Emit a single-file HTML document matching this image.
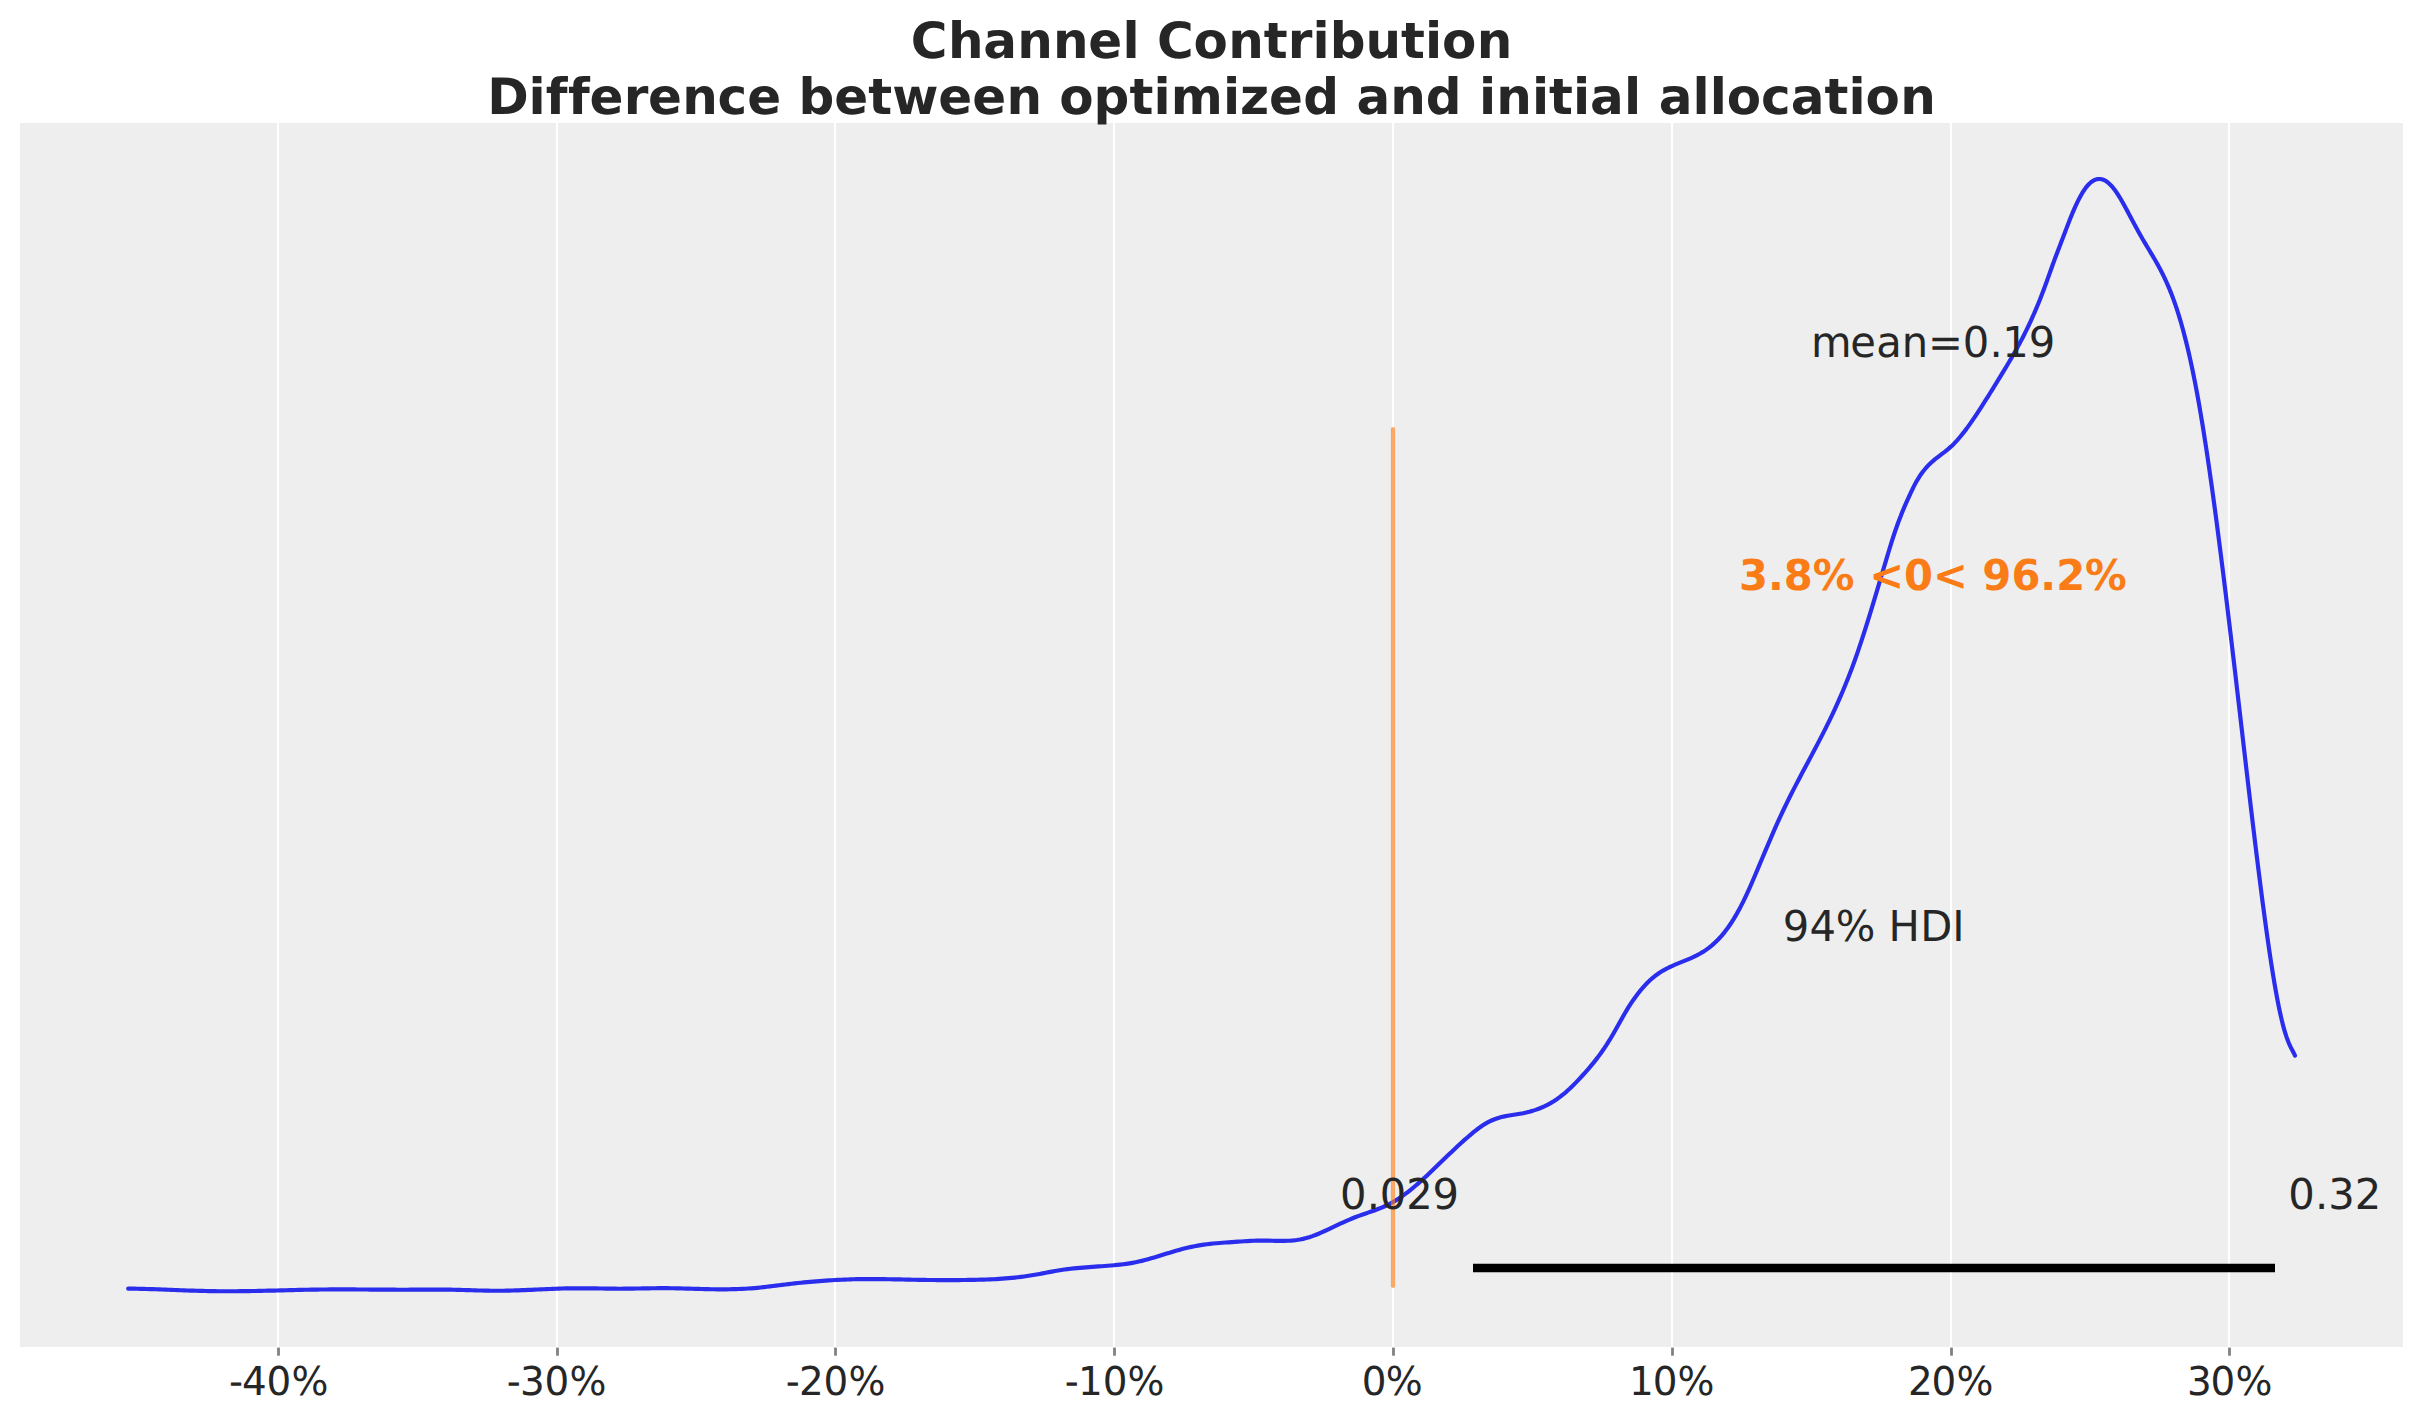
<!DOCTYPE html>
<html lang="en">
<head>
<meta charset="utf-8">
<title>Channel Contribution</title>
<style>
html,body{margin:0;padding:0;background:#ffffff;}
body{width:[1.  1.  1.  1.  1.  1.  1.  1.  1.  1.  1.  1.  1.  1.  1.  1.  1.  1.
 1.  1.  1.  1.  1.  1.  1.  1.  1.  1.  1.  1.  1.  1.  1.  1.  1.  1.
 1.  1.  1.  1.  1.  1.  1.  1.  1.  1.  1.  1.  1.  1.  1.  1.  1.  1.
 1.  1.  1.  1.  1.  1.  1.  1.  1.  1.  1.  1.  1.  1.  1.  1.  1.  1.
 1.  1.  1.  1.  1.  1.  1.  1.  1.  1.  1.  1.  1.  1.  1.  1.  1.  1.
 1.  1.  1.  2.5 2.5 2.5 2.5 2.5 2.5 2.5 2.5 2.5 2.5 2.5 2.5 2.5 2.5 2.5
 2.5 2.5 2.5 2.5 2.5 2.5 2.5 2.5 1.  1.  1.  1.  1.  1.  1.  1.  1.  1.
 1.  1.  1.  1.  1.  1.  1.  1.  1.  1.  1.  1.  1. ]px;height:1423px;overflow:hidden;}
svg{display:block;}
text{font-family:"DejaVu Sans","Liberation Sans",sans-serif;fill:#262626;text-rendering:geometricPrecision;white-space:pre;font-variant-ligatures:none;font-feature-settings:"liga" 0,"clig" 0,"kern" 0;font-kerning:none;}
.tk{font-size:38.89px;}
.lb{font-size:41.67px;}
.rf{fill:#fa7c17;font-weight:bold;}
.tt{font-size:50px;font-weight:bold;}
</style>
</head>
<body>
<svg xmlns="http://www.w3.org/2000/svg" width="[1.  1.  1.  1.  1.  1.  1.  1.  1.  1.  1.  1.  1.  1.  1.  1.  1.  1.
 1.  1.  1.  1.  1.  1.  1.  1.  1.  1.  1.  1.  1.  1.  1.  1.  1.  1.
 1.  1.  1.  1.  1.  1.  1.  1.  1.  1.  1.  1.  1.  1.  1.  1.  1.  1.
 1.  1.  1.  1.  1.  1.  1.  1.  1.  1.  1.  1.  1.  1.  1.  1.  1.  1.
 1.  1.  1.  1.  1.  1.  1.  1.  1.  1.  1.  1.  1.  1.  1.  1.  1.  1.
 1.  1.  1.  2.5 2.5 2.5 2.5 2.5 2.5 2.5 2.5 2.5 2.5 2.5 2.5 2.5 2.5 2.5
 2.5 2.5 2.5 2.5 2.5 2.5 2.5 2.5 1.  1.  1.  1.  1.  1.  1.  1.  1.  1.
 1.  1.  1.  1.  1.  1.  1.  1.  1.  1.  1.  1.  1. ]" height="1423" viewBox="0 0 [1.  1.  1.  1.  1.  1.  1.  1.  1.  1.  1.  1.  1.  1.  1.  1.  1.  1.
 1.  1.  1.  1.  1.  1.  1.  1.  1.  1.  1.  1.  1.  1.  1.  1.  1.  1.
 1.  1.  1.  1.  1.  1.  1.  1.  1.  1.  1.  1.  1.  1.  1.  1.  1.  1.
 1.  1.  1.  1.  1.  1.  1.  1.  1.  1.  1.  1.  1.  1.  1.  1.  1.  1.
 1.  1.  1.  1.  1.  1.  1.  1.  1.  1.  1.  1.  1.  1.  1.  1.  1.  1.
 1.  1.  1.  2.5 2.5 2.5 2.5 2.5 2.5 2.5 2.5 2.5 2.5 2.5 2.5 2.5 2.5 2.5
 2.5 2.5 2.5 2.5 2.5 2.5 2.5 2.5 1.  1.  1.  1.  1.  1.  1.  1.  1.  1.
 1.  1.  1.  1.  1.  1.  1.  1.  1.  1.  1.  1.  1. ] 1423">
<rect x="0" y="0" width="[1.  1.  1.  1.  1.  1.  1.  1.  1.  1.  1.  1.  1.  1.  1.  1.  1.  1.
 1.  1.  1.  1.  1.  1.  1.  1.  1.  1.  1.  1.  1.  1.  1.  1.  1.  1.
 1.  1.  1.  1.  1.  1.  1.  1.  1.  1.  1.  1.  1.  1.  1.  1.  1.  1.
 1.  1.  1.  1.  1.  1.  1.  1.  1.  1.  1.  1.  1.  1.  1.  1.  1.  1.
 1.  1.  1.  1.  1.  1.  1.  1.  1.  1.  1.  1.  1.  1.  1.  1.  1.  1.
 1.  1.  1.  2.5 2.5 2.5 2.5 2.5 2.5 2.5 2.5 2.5 2.5 2.5 2.5 2.5 2.5 2.5
 2.5 2.5 2.5 2.5 2.5 2.5 2.5 2.5 1.  1.  1.  1.  1.  1.  1.  1.  1.  1.
 1.  1.  1.  1.  1.  1.  1.  1.  1.  1.  1.  1.  1. ]" height="1423" fill="#ffffff"/>
<rect x="20" y="123" width="2383" height="1224" fill="#eeeeee"/>
<g><rect x="276.89" y="123" width="2.22" height="1224" fill="#ffffff"/><rect x="555.89" y="123" width="2.22" height="1224" fill="#ffffff"/><rect x="833.89" y="123" width="2.22" height="1224" fill="#ffffff"/><rect x="1112.89" y="123" width="2.22" height="1224" fill="#ffffff"/><rect x="1391.89" y="123" width="2.22" height="1224" fill="#ffffff"/><rect x="1670.89" y="123" width="2.22" height="1224" fill="#ffffff"/><rect x="1949.89" y="123" width="2.22" height="1224" fill="#ffffff"/><rect x="2227.89" y="123" width="2.22" height="1224" fill="#ffffff"/></g>
<g><rect x="277.11" y="1347.6" width="2.78" height="8.1" fill="#808080"/><rect x="556.11" y="1347.6" width="2.78" height="8.1" fill="#808080"/><rect x="834.11" y="1347.6" width="2.78" height="8.1" fill="#808080"/><rect x="1113.11" y="1347.6" width="2.78" height="8.1" fill="#808080"/><rect x="1392.11" y="1347.6" width="2.78" height="8.1" fill="#808080"/><rect x="1671.11" y="1347.6" width="2.78" height="8.1" fill="#808080"/><rect x="1950.11" y="1347.6" width="2.78" height="8.1" fill="#808080"/><rect x="2228.11" y="1347.6" width="2.78" height="8.1" fill="#808080"/></g>
<path d="M128.20 1288.60 L131.30 1288.64 L134.40 1288.68 L137.50 1288.74 L140.60 1288.81 L143.70 1288.89 L146.80 1288.98 L149.90 1289.07 L153.00 1289.17 L156.10 1289.28 L159.20 1289.39 L162.30 1289.51 L165.40 1289.63 L168.50 1289.75 L171.60 1289.87 L174.70 1289.99 L177.80 1290.11 L180.90 1290.23 L184.00 1290.34 L187.10 1290.46 L190.20 1290.57 L193.30 1290.67 L196.40 1290.77 L199.50 1290.86 L202.60 1290.94 L205.70 1291.01 L208.80 1291.08 L211.90 1291.13 L215.00 1291.17 L218.10 1291.21 L221.20 1291.23 L224.30 1291.24 L227.40 1291.25 L230.50 1291.25 L233.60 1291.24 L236.69 1291.22 L239.79 1291.19 L242.89 1291.16 L245.99 1291.12 L249.09 1291.07 L252.19 1291.02 L255.29 1290.97 L258.39 1290.90 L261.49 1290.84 L264.59 1290.77 L267.69 1290.70 L270.79 1290.62 L273.89 1290.55 L276.99 1290.47 L280.09 1290.39 L283.19 1290.31 L286.29 1290.23 L289.39 1290.15 L292.49 1290.08 L295.59 1290.00 L298.69 1289.93 L301.79 1289.86 L304.89 1289.79 L307.99 1289.73 L311.09 1289.67 L314.19 1289.62 L317.29 1289.58 L320.39 1289.54 L323.49 1289.50 L326.59 1289.48 L329.69 1289.45 L332.79 1289.44 L335.89 1289.43 L338.99 1289.42 L342.09 1289.42 L345.19 1289.42 L348.29 1289.43 L351.39 1289.44 L354.49 1289.45 L357.59 1289.47 L360.69 1289.49 L363.79 1289.51 L366.89 1289.53 L369.99 1289.55 L373.09 1289.57 L376.19 1289.60 L379.29 1289.62 L382.39 1289.64 L385.49 1289.66 L388.59 1289.68 L391.69 1289.69 L394.79 1289.70 L397.89 1289.71 L400.99 1289.71 L404.09 1289.71 L407.19 1289.71 L410.29 1289.70 L413.39 1289.68 L416.49 1289.66 L419.59 1289.64 L422.69 1289.63 L425.79 1289.61 L428.89 1289.59 L431.99 1289.59 L435.09 1289.58 L438.19 1289.59 L441.29 1289.60 L444.39 1289.62 L447.49 1289.66 L450.59 1289.70 L453.68 1289.77 L456.78 1289.84 L459.88 1289.92 L462.98 1290.01 L466.08 1290.10 L469.18 1290.19 L472.28 1290.28 L475.38 1290.38 L478.48 1290.46 L481.58 1290.54 L484.68 1290.61 L487.78 1290.67 L490.88 1290.72 L493.98 1290.75 L497.08 1290.76 L500.18 1290.75 L503.28 1290.72 L506.38 1290.67 L509.48 1290.60 L512.58 1290.52 L515.68 1290.42 L518.78 1290.32 L521.88 1290.20 L524.98 1290.07 L528.08 1289.94 L531.18 1289.80 L534.28 1289.65 L537.38 1289.51 L540.48 1289.37 L543.58 1289.22 L546.68 1289.09 L549.78 1288.96 L552.88 1288.83 L555.98 1288.72 L559.08 1288.61 L562.18 1288.52 L565.28 1288.44 L568.38 1288.38 L571.48 1288.33 L574.58 1288.30 L577.68 1288.29 L580.78 1288.29 L583.88 1288.30 L586.98 1288.33 L590.08 1288.36 L593.18 1288.40 L596.28 1288.45 L599.38 1288.49 L602.48 1288.54 L605.58 1288.59 L608.68 1288.63 L611.78 1288.66 L614.88 1288.69 L617.98 1288.71 L621.08 1288.71 L624.18 1288.70 L627.28 1288.68 L630.38 1288.64 L633.48 1288.60 L636.58 1288.54 L639.68 1288.49 L642.78 1288.43 L645.88 1288.37 L648.98 1288.31 L652.08 1288.26 L655.18 1288.22 L658.28 1288.19 L661.38 1288.17 L664.48 1288.17 L667.58 1288.18 L670.67 1288.21 L673.77 1288.26 L676.87 1288.33 L679.97 1288.40 L683.07 1288.48 L686.17 1288.57 L689.27 1288.67 L692.37 1288.76 L695.47 1288.85 L698.57 1288.94 L701.67 1289.03 L704.77 1289.10 L707.87 1289.17 L710.97 1289.23 L714.07 1289.27 L717.17 1289.30 L720.27 1289.31 L723.37 1289.31 L726.47 1289.29 L729.57 1289.25 L732.67 1289.19 L735.77 1289.11 L738.87 1289.01 L741.97 1288.88 L745.07 1288.72 L748.17 1288.53 L751.27 1288.32 L754.37 1288.07 L757.47 1287.80 L760.57 1287.49 L763.67 1287.15 L766.77 1286.80 L769.87 1286.43 L772.97 1286.05 L776.07 1285.65 L779.17 1285.26 L782.27 1284.87 L785.37 1284.48 L788.47 1284.10 L791.57 1283.74 L794.67 1283.39 L797.77 1283.05 L800.87 1282.73 L803.97 1282.42 L807.07 1282.12 L810.17 1281.83 L813.27 1281.56 L816.37 1281.30 L819.47 1281.06 L822.57 1280.83 L825.67 1280.61 L828.77 1280.40 L831.87 1280.21 L834.97 1280.04 L838.07 1279.88 L841.17 1279.73 L844.27 1279.59 L847.37 1279.47 L850.47 1279.37 L853.57 1279.28 L856.67 1279.20 L859.77 1279.14 L862.87 1279.10 L865.97 1279.07 L869.07 1279.05 L872.17 1279.05 L875.27 1279.06 L878.37 1279.08 L881.47 1279.11 L884.57 1279.16 L887.66 1279.21 L890.76 1279.26 L893.86 1279.32 L896.96 1279.38 L900.06 1279.45 L903.16 1279.52 L906.26 1279.58 L909.36 1279.65 L912.46 1279.71 L915.56 1279.77 L918.66 1279.82 L921.76 1279.87 L924.86 1279.92 L927.96 1279.96 L931.06 1280.00 L934.16 1280.03 L937.26 1280.05 L940.36 1280.07 L943.46 1280.08 L946.56 1280.09 L949.66 1280.09 L952.76 1280.09 L955.86 1280.07 L958.96 1280.05 L962.06 1280.03 L965.16 1279.99 L968.26 1279.95 L971.36 1279.90 L974.46 1279.84 L977.56 1279.77 L980.66 1279.68 L983.76 1279.59 L986.86 1279.48 L989.96 1279.36 L993.06 1279.22 L996.16 1279.05 L999.26 1278.87 L1002.36 1278.67 L1005.46 1278.44 L1008.56 1278.19 L1011.66 1277.91 L1014.76 1277.60 L1017.86 1277.26 L1020.96 1276.88 L1024.06 1276.48 L1027.16 1276.04 L1030.26 1275.56 L1033.36 1275.05 L1036.46 1274.50 L1039.56 1273.93 L1042.66 1273.34 L1045.76 1272.75 L1048.86 1272.16 L1051.96 1271.58 L1055.06 1271.02 L1058.16 1270.48 L1061.26 1269.98 L1064.36 1269.53 L1067.46 1269.12 L1070.56 1268.74 L1073.66 1268.40 L1076.76 1268.09 L1079.86 1267.81 L1082.96 1267.55 L1086.06 1267.31 L1089.16 1267.08 L1092.26 1266.85 L1095.36 1266.64 L1098.46 1266.43 L1101.56 1266.21 L1104.65 1265.98 L1107.75 1265.75 L1110.85 1265.49 L1113.95 1265.22 L1117.05 1264.92 L1120.15 1264.60 L1123.25 1264.23 L1126.35 1263.82 L1129.45 1263.36 L1132.55 1262.83 L1135.65 1262.24 L1138.75 1261.58 L1141.85 1260.85 L1144.95 1260.07 L1148.05 1259.23 L1151.15 1258.35 L1154.25 1257.43 L1157.35 1256.49 L1160.45 1255.53 L1163.55 1254.56 L1166.65 1253.60 L1169.75 1252.64 L1172.85 1251.69 L1175.95 1250.78 L1179.05 1249.89 L1182.15 1249.05 L1185.25 1248.26 L1188.35 1247.52 L1191.45 1246.84 L1194.55 1246.22 L1197.65 1245.65 L1200.75 1245.14 L1203.85 1244.67 L1206.95 1244.25 L1210.05 1243.88 L1213.15 1243.55 L1216.25 1243.25 L1219.35 1242.99 L1222.45 1242.75 L1225.55 1242.53 L1228.65 1242.31 L1231.75 1242.11 L1234.85 1241.90 L1237.95 1241.69 L1241.05 1241.48 L1244.15 1241.27 L1247.25 1241.07 L1250.35 1240.90 L1253.45 1240.76 L1256.55 1240.65 L1259.65 1240.59 L1262.75 1240.58 L1265.85 1240.62 L1268.95 1240.67 L1272.05 1240.74 L1275.15 1240.81 L1278.25 1240.86 L1281.35 1240.88 L1284.45 1240.85 L1287.55 1240.76 L1290.65 1240.59 L1293.75 1240.33 L1296.85 1239.97 L1299.95 1239.48 L1303.05 1238.87 L1306.15 1238.10 L1309.25 1237.18 L1312.35 1236.14 L1315.45 1234.97 L1318.55 1233.72 L1321.64 1232.38 L1324.74 1230.99 L1327.84 1229.56 L1330.94 1228.10 L1334.04 1226.63 L1337.14 1225.17 L1340.24 1223.72 L1343.34 1222.29 L1346.44 1220.90 L1349.54 1219.55 L1352.64 1218.27 L1355.74 1217.05 L1358.84 1215.90 L1361.94 1214.79 L1365.04 1213.71 L1368.14 1212.64 L1371.24 1211.56 L1374.34 1210.45 L1377.44 1209.29 L1380.54 1208.06 L1383.64 1206.75 L1386.74 1205.33 L1389.84 1203.79 L1392.94 1202.11 L1396.04 1200.28 L1399.14 1198.29 L1402.24 1196.17 L1405.34 1193.92 L1408.44 1191.55 L1411.54 1189.07 L1414.64 1186.50 L1417.74 1183.83 L1420.84 1181.09 L1423.94 1178.28 L1427.04 1175.42 L1430.14 1172.51 L1433.24 1169.56 L1436.34 1166.58 L1439.44 1163.59 L1442.54 1160.59 L1445.64 1157.59 L1448.74 1154.61 L1451.84 1151.64 L1454.94 1148.71 L1458.04 1145.81 L1461.14 1142.96 L1464.24 1140.17 L1467.34 1137.45 L1470.44 1134.80 L1473.54 1132.23 L1476.64 1129.76 L1479.74 1127.43 L1482.84 1125.28 L1485.94 1123.36 L1489.04 1121.68 L1492.14 1120.24 L1495.24 1119.01 L1498.34 1117.97 L1501.44 1117.09 L1504.54 1116.37 L1507.64 1115.76 L1510.74 1115.24 L1513.84 1114.76 L1516.94 1114.28 L1520.04 1113.76 L1523.14 1113.18 L1526.24 1112.51 L1529.34 1111.74 L1532.44 1110.87 L1535.54 1109.88 L1538.63 1108.77 L1541.73 1107.52 L1544.83 1106.13 L1547.93 1104.59 L1551.03 1102.88 L1554.13 1101.00 L1557.23 1098.94 L1560.33 1096.68 L1563.43 1094.22 L1566.53 1091.56 L1569.63 1088.73 L1572.73 1085.74 L1575.83 1082.61 L1578.93 1079.37 L1582.03 1076.02 L1585.13 1072.59 L1588.23 1069.06 L1591.33 1065.41 L1594.43 1061.60 L1597.53 1057.62 L1600.63 1053.44 L1603.73 1049.03 L1606.83 1044.37 L1609.93 1039.44 L1613.03 1034.21 L1616.13 1028.75 L1619.23 1023.18 L1622.33 1017.65 L1625.43 1012.29 L1628.53 1007.21 L1631.63 1002.43 L1634.73 997.95 L1637.83 993.78 L1640.93 989.90 L1644.03 986.32 L1647.13 983.03 L1650.23 980.04 L1653.33 977.34 L1656.43 974.92 L1659.53 972.76 L1662.63 970.82 L1665.73 969.08 L1668.83 967.49 L1671.93 966.04 L1675.03 964.68 L1678.13 963.39 L1681.23 962.14 L1684.33 960.90 L1687.43 959.63 L1690.53 958.31 L1693.63 956.90 L1696.73 955.39 L1699.83 953.73 L1702.93 951.90 L1706.03 949.87 L1709.13 947.61 L1712.23 945.10 L1715.33 942.32 L1718.43 939.24 L1721.53 935.84 L1724.63 932.10 L1727.73 927.99 L1730.83 923.51 L1733.93 918.63 L1737.03 913.36 L1740.13 907.67 L1743.23 901.58 L1746.33 895.12 L1749.43 888.32 L1752.53 881.25 L1755.62 873.99 L1758.72 866.64 L1761.82 859.26 L1764.92 851.89 L1768.02 844.57 L1771.12 837.31 L1774.22 830.17 L1777.32 823.18 L1780.42 816.37 L1783.52 809.75 L1786.62 803.32 L1789.72 797.04 L1792.82 790.90 L1795.92 784.88 L1799.02 778.94 L1802.12 773.07 L1805.22 767.24 L1808.32 761.42 L1811.42 755.61 L1814.52 749.77 L1817.62 743.87 L1820.72 737.91 L1823.82 731.84 L1826.92 725.66 L1830.02 719.32 L1833.12 712.81 L1836.22 706.10 L1839.32 699.16 L1842.42 691.97 L1845.52 684.50 L1848.62 676.73 L1851.72 668.63 L1854.82 660.17 L1857.92 651.34 L1861.02 642.15 L1864.12 632.65 L1867.22 622.87 L1870.32 612.88 L1873.42 602.70 L1876.52 592.38 L1879.62 581.97 L1882.72 571.52 L1885.82 561.06 L1888.92 550.74 L1892.02 540.74 L1895.12 531.26 L1898.22 522.49 L1901.32 514.39 L1904.42 506.86 L1907.52 499.80 L1910.62 493.09 L1913.72 486.64 L1916.82 480.82 L1919.92 475.80 L1923.02 471.46 L1926.12 467.71 L1929.22 464.44 L1932.32 461.56 L1935.42 458.96 L1938.52 456.55 L1941.62 454.21 L1944.72 451.85 L1947.82 449.37 L1950.92 446.67 L1954.02 443.66 L1957.12 440.35 L1960.22 436.76 L1963.32 432.93 L1966.42 428.87 L1969.52 424.61 L1972.61 420.18 L1975.71 415.61 L1978.81 410.92 L1981.91 406.12 L1985.01 401.24 L1988.11 396.30 L1990.00 393.27 L1990.76 392.03 L1991.21 391.31 L1991.53 390.80 L1992.29 389.56 L1993.06 388.32 L1993.82 387.08 L1994.31 386.28 L1994.59 385.84 L1995.35 384.60 L1996.12 383.36 L1996.88 382.12 L1997.41 381.25 L1997.64 380.88 L1998.41 379.63 L1999.17 378.39 L1999.94 377.15 L2000.51 376.21 L2000.70 375.90 L2001.47 374.66 L2002.23 373.41 L2002.99 372.15 L2003.61 371.14 L2003.76 370.90 L2004.52 369.64 L2005.29 368.38 L2006.05 367.11 L2006.71 366.01 L2006.82 365.84 L2007.58 364.56 L2008.35 363.27 L2009.11 361.98 L2009.81 360.79 L2009.87 360.69 L2010.64 359.38 L2011.40 358.07 L2012.17 356.75 L2012.91 355.46 L2012.93 355.42 L2013.70 354.08 L2014.46 352.74 L2015.23 351.38 L2015.99 350.01 L2016.01 349.97 L2016.75 348.64 L2017.52 347.25 L2018.28 345.85 L2019.05 344.44 L2019.11 344.32 L2019.81 343.01 L2020.58 341.57 L2021.34 340.12 L2022.11 338.66 L2022.21 338.45 L2022.87 337.18 L2023.63 335.69 L2024.40 334.18 L2025.16 332.65 L2025.31 332.35 L2025.93 331.11 L2026.69 329.56 L2027.46 327.98 L2028.22 326.39 L2028.41 325.99 L2028.98 324.78 L2029.75 323.16 L2030.51 321.51 L2031.28 319.85 L2031.51 319.33 L2032.04 318.16 L2032.81 316.46 L2033.57 314.74 L2034.34 312.99 L2034.61 312.36 L2035.10 311.22 L2035.86 309.44 L2036.63 307.63 L2037.39 305.79 L2037.71 305.02 L2038.16 303.94 L2038.92 302.06 L2039.69 300.16 L2040.45 298.23 L2040.81 297.31 L2041.22 296.28 L2041.98 294.30 L2042.74 292.30 L2043.51 290.27 L2043.91 289.19 L2044.27 288.22 L2045.04 286.14 L2045.80 284.03 L2046.57 281.92 L2047.01 280.68 L2047.33 279.78 L2048.10 277.64 L2048.86 275.49 L2049.62 273.34 L2050.11 271.97 L2050.39 271.19 L2051.15 269.05 L2051.92 266.92 L2052.68 264.80 L2053.21 263.35 L2053.45 262.70 L2054.21 260.63 L2054.97 258.57 L2055.74 256.54 L2056.31 255.03 L2056.50 254.52 L2057.27 252.51 L2058.03 250.52 L2058.80 248.53 L2059.41 246.93 L2059.56 246.54 L2060.33 244.54 L2061.09 242.55 L2061.85 240.54 L2062.51 238.80 L2062.62 238.52 L2063.38 236.49 L2064.15 234.46 L2064.91 232.43 L2065.61 230.58 L2065.68 230.40 L2066.44 228.38 L2067.21 226.38 L2067.97 224.38 L2068.71 222.47 L2068.73 222.41 L2069.50 220.45 L2070.26 218.53 L2071.03 216.63 L2071.79 214.76 L2071.81 214.71 L2072.56 212.92 L2073.32 211.12 L2074.09 209.35 L2074.85 207.62 L2074.91 207.48 L2075.61 205.93 L2076.38 204.27 L2077.14 202.66 L2077.91 201.09 L2078.01 200.89 L2078.67 199.57 L2079.44 198.09 L2080.20 196.66 L2080.96 195.28 L2081.11 195.02 L2081.73 193.95 L2082.49 192.67 L2083.26 191.44 L2084.02 190.27 L2084.21 189.99 L2084.79 189.16 L2085.55 188.10 L2086.32 187.10 L2087.08 186.16 L2087.31 185.89 L2087.84 185.28 L2088.61 184.45 L2089.37 183.69 L2090.14 182.98 L2090.41 182.75 L2090.90 182.33 L2091.67 181.74 L2092.43 181.21 L2093.20 180.73 L2093.51 180.55 L2093.96 180.31 L2094.72 179.95 L2095.49 179.64 L2096.25 179.39 L2096.61 179.30 L2097.02 179.20 L2097.78 179.06 L2098.55 178.98 L2099.31 178.96 L2099.71 178.97 L2100.08 178.99 L2100.84 179.08 L2101.60 179.22 L2102.37 179.42 L2102.81 179.56 L2103.13 179.68 L2103.90 179.99 L2104.66 180.35 L2105.43 180.77 L2105.91 181.06 L2106.19 181.25 L2106.95 181.77 L2107.72 182.35 L2108.48 182.99 L2109.01 183.45 L2109.25 183.67 L2110.01 184.40 L2110.78 185.18 L2111.54 186.00 L2112.11 186.64 L2112.31 186.87 L2113.07 187.78 L2113.83 188.74 L2114.60 189.74 L2115.21 190.56 L2115.36 190.77 L2116.13 191.85 L2116.89 192.96 L2117.66 194.12 L2118.31 195.12 L2118.42 195.30 L2119.19 196.52 L2119.95 197.77 L2120.71 199.05 L2121.41 200.24 L2121.48 200.36 L2122.24 201.69 L2123.01 203.05 L2123.77 204.42 L2124.51 205.76 L2124.54 205.81 L2125.30 207.22 L2126.07 208.63 L2126.83 210.06 L2127.59 211.49 L2127.61 211.52 L2128.36 212.93 L2129.12 214.37 L2129.89 215.81 L2130.65 217.24 L2130.71 217.35 L2131.42 218.68 L2132.18 220.11 L2132.94 221.54 L2133.71 222.97 L2133.81 223.15 L2134.47 224.39 L2135.24 225.81 L2136.00 227.22 L2136.77 228.62 L2136.91 228.88 L2137.53 230.01 L2138.30 231.40 L2139.06 232.78 L2139.82 234.14 L2140.01 234.47 L2140.59 235.50 L2141.35 236.85 L2142.12 238.18 L2142.88 239.50 L2143.11 239.88 L2143.65 240.80 L2144.41 242.10 L2145.18 243.39 L2145.94 244.67 L2146.21 245.12 L2146.70 245.95 L2147.47 247.22 L2148.23 248.49 L2149.00 249.76 L2149.31 250.28 L2149.76 251.03 L2150.53 252.31 L2151.29 253.58 L2152.06 254.87 L2152.41 255.46 L2152.82 256.16 L2153.58 257.46 L2154.35 258.76 L2155.11 260.08 L2155.51 260.77 L2155.88 261.42 L2156.64 262.77 L2157.41 264.13 L2158.17 265.51 L2158.61 266.31 L2158.93 266.92 L2159.70 268.34 L2160.46 269.79 L2161.23 271.26 L2161.71 272.19 L2161.99 272.75 L2162.76 274.28 L2163.52 275.83 L2164.29 277.41 L2164.81 278.51 L2165.05 279.03 L2165.81 280.68 L2166.58 282.36 L2167.34 284.08 L2167.91 285.37 L2168.11 285.84 L2168.87 287.64 L2169.64 289.48 L2170.40 291.36 L2171.01 292.88 L2171.17 293.29 L2171.93 295.26 L2172.69 297.28 L2173.46 299.36 L2174.11 301.15 L2174.22 301.48 L2174.99 303.65 L2175.75 305.88 L2176.52 308.16 L2177.21 310.26 L2177.28 310.49 L2178.05 312.89 L2178.81 315.34 L2179.57 317.84 L2180.31 320.30 L2180.34 320.41 L2181.10 323.04 L2181.87 325.73 L2182.63 328.48 L2183.40 331.29 L2183.41 331.33 L2184.16 334.17 L2184.92 337.11 L2185.69 340.12 L2186.45 343.19 L2186.51 343.40 L2187.22 346.34 L2187.98 349.55 L2188.75 352.83 L2189.51 356.18 L2189.60 356.59 L2190.28 359.60 L2191.04 363.09 L2191.80 366.66 L2192.57 370.30 L2192.70 370.95 L2193.33 374.01 L2194.10 377.81 L2194.86 381.68 L2195.63 385.62 L2195.80 386.55 L2196.39 389.65 L2197.16 393.75 L2197.92 397.94 L2198.68 402.21 L2198.90 403.45 L2199.45 406.55 L2200.21 410.98 L2200.98 415.48 L2201.74 420.06 L2202.00 421.65 L2202.51 424.71 L2203.27 429.44 L2204.04 434.24 L2204.80 439.10 L2205.10 441.06 L2205.56 444.04 L2206.33 449.04 L2207.09 454.11 L2207.86 459.24 L2208.20 461.59 L2208.62 464.43 L2209.39 469.69 L2210.15 475.00 L2210.91 480.38 L2211.30 483.13 L2211.68 485.81 L2212.44 491.29 L2213.21 496.83 L2213.97 502.42 L2214.40 505.60 L2214.74 508.06 L2215.50 513.75 L2216.27 519.49 L2217.03 525.28 L2217.50 528.89 L2217.79 531.11 L2218.56 536.99 L2219.32 542.90 L2220.09 548.86 L2220.60 552.90 L2220.85 554.86 L2221.62 560.90 L2222.38 566.97 L2223.15 573.08 L2223.70 577.56 L2223.91 579.22 L2224.67 585.40 L2225.44 591.61 L2226.20 597.84 L2226.80 602.76 L2226.97 604.11 L2227.73 610.41 L2228.50 616.73 L2229.26 623.08 L2229.90 628.43 L2230.03 629.45 L2230.79 635.84 L2231.55 642.25 L2232.32 648.69 L2233.00 654.47 L2233.08 655.14 L2233.85 661.61 L2234.61 668.10 L2235.38 674.60 L2236.10 680.79 L2236.14 681.12 L2236.90 687.64 L2237.67 694.18 L2238.43 700.73 L2239.20 707.28 L2239.20 707.32 L2239.96 713.84 L2240.73 720.41 L2241.49 726.98 L2242.26 733.55 L2242.30 733.96 L2243.02 740.13 L2243.78 746.70 L2244.55 753.27 L2245.31 759.84 L2245.40 760.60 L2246.08 766.39 L2246.84 772.94 L2247.61 779.47 L2248.37 785.99 L2248.50 787.11 L2249.14 792.49 L2249.90 798.97 L2250.66 805.44 L2251.43 811.88 L2251.60 813.33 L2252.19 818.29 L2252.96 824.68 L2253.72 831.04 L2254.49 837.36 L2254.70 839.14 L2255.25 843.65 L2256.02 849.91 L2256.78 856.13 L2257.54 862.30 L2257.80 864.38 L2258.31 868.44 L2259.07 874.53 L2259.84 880.57 L2260.60 886.56 L2260.90 888.90 L2261.37 892.51 L2262.13 898.40 L2262.89 904.23 L2263.66 910.01 L2264.00 912.57 L2264.42 915.72 L2265.19 921.37 L2265.95 926.95 L2266.72 932.45 L2267.10 935.19 L2267.48 937.88 L2268.25 943.22 L2269.01 948.48 L2269.77 953.65 L2270.20 956.50 L2270.54 958.73 L2271.30 963.71 L2272.07 968.59 L2272.83 973.37 L2273.30 976.24 L2273.60 978.03 L2274.36 982.59 L2275.13 987.03 L2275.89 991.35 L2276.40 994.17 L2276.65 995.54 L2277.42 999.61 L2278.18 1003.55 L2278.95 1007.35 L2279.50 1010.02 L2279.71 1011.01 L2280.48 1014.53 L2281.24 1017.91 L2282.01 1021.13 L2282.60 1023.53 L2282.77 1024.20 L2283.53 1027.10 L2284.30 1029.85 L2285.06 1032.44 L2285.70 1034.49 L2285.83 1034.88 L2286.59 1037.17 L2287.36 1039.32 L2288.12 1041.34 L2288.80 1043.02 L2288.88 1043.22 L2289.65 1044.98 L2290.41 1046.61 L2291.18 1048.14 L2291.90 1049.52 L2291.94 1049.59 L2292.71 1051.02 L2293.47 1052.46 L2294.24 1053.96 L2295.00 1055.57" fill="none" stroke="#2a2eec" stroke-width="4.17" stroke-linecap="round" stroke-linejoin="round"/>
<line x1="1393" y1="429" x2="1393" y2="1285.9" stroke="#fa7c17" stroke-opacity="0.65" stroke-width="4.17" stroke-linecap="round"/>
<line x1="1473" y1="1268" x2="2275" y2="1268" stroke="#000000" stroke-width="8.33"/>
<g><text transform="translate(0 1395) scale(1 1.02)" x="228.95 242.05 266.60 291.50" y="0" class="tk">-40%</text><text transform="translate(0 1395) scale(1 1.02)" x="506.85 520.10 544.60 569.50" y="0" class="tk">-30%</text><text transform="translate(0 1395) scale(1 1.02)" x="785.85 799.05 823.60 848.50" y="0" class="tk">-20%</text><text transform="translate(0 1395) scale(1 1.02)" x="1064.85 1078.00 1102.82 1127.52" y="0" class="tk">-10%</text><text transform="translate(0 1395) scale(1 1.02)" x="1361.85 1385.75" y="0" class="tk">0%</text><text transform="translate(0 1395) scale(1 1.02)" x="1629.00 1652.82 1677.52" y="0" class="tk">10%</text><text transform="translate(0 1395) scale(1 1.02)" x="1908.10 1931.60 1956.50" y="0" class="tk">20%</text><text transform="translate(0 1395) scale(1 1.02)" x="2187.10 2210.60 2235.50" y="0" class="tk">30%</text></g>
<text transform="translate(0 357) scale(1 1.02)" x="1810.90 1850.35 1876.17 1901.67 1928.00 1962.75 1989.40 2002.35 2028.85" y="0" class="lb">mean=0.19</text>
<text transform="translate(0 590) scale(1 1.02)" x="1739.00 1768.00 1783.87 1812.82 1854.62 1869.17 1904.00 1933.00 1967.88 1982.27 2011.40 2040.25 2056.17 2085.00" y="0" class="lb rf">3.8% &lt;0&lt; 96.2%</text>
<text transform="translate(0 941) scale(1 1.02)" x="1782.85 1809.42 1835.77 1875.38 1888.52 1920.15 1952.22" y="0" class="lb">94% HDI</text>
<text transform="translate(0 1209) scale(1 1.02)" x="1340.00 1366.65 1379.75 1406.25 1432.57" y="0" class="lb">0.029</text>
<text transform="translate(0 1209) scale(1 1.02)" x="2288.25 2314.90 2328.20 2354.67" y="0" class="lb">0.32</text>
<text x="910.85 947.90 983.32 1017.17 1052.90 1088.37 1122.40 1139.50 1156.92 1193.57 1228.15 1263.67 1287.65 1312.40 1329.65 1365.38 1401.00 1424.93 1442.07 1476.65" y="58" class="tt">Channel Contribution</text>
<text x="487.15 528.57 545.87 567.90 589.52 623.65 648.10 682.17 717.60 747.37 781.25 798.52 834.35 868.27 892.25 938.35 972.37 1006.40 1041.88 1059.25 1093.57 1129.50 1153.38 1170.68 1222.90 1240.00 1269.02 1303.15 1338.88 1356.40 1390.15 1425.73 1461.50 1478.93 1496.18 1531.90 1549.00 1572.93 1590.12 1623.93 1641.12 1658.65 1692.40 1709.65 1726.75 1761.02 1790.75 1824.50 1848.38 1865.58 1900.15" y="114" class="tt">Difference between optimized and initial allocation</text>
</svg>
</body>
</html>
